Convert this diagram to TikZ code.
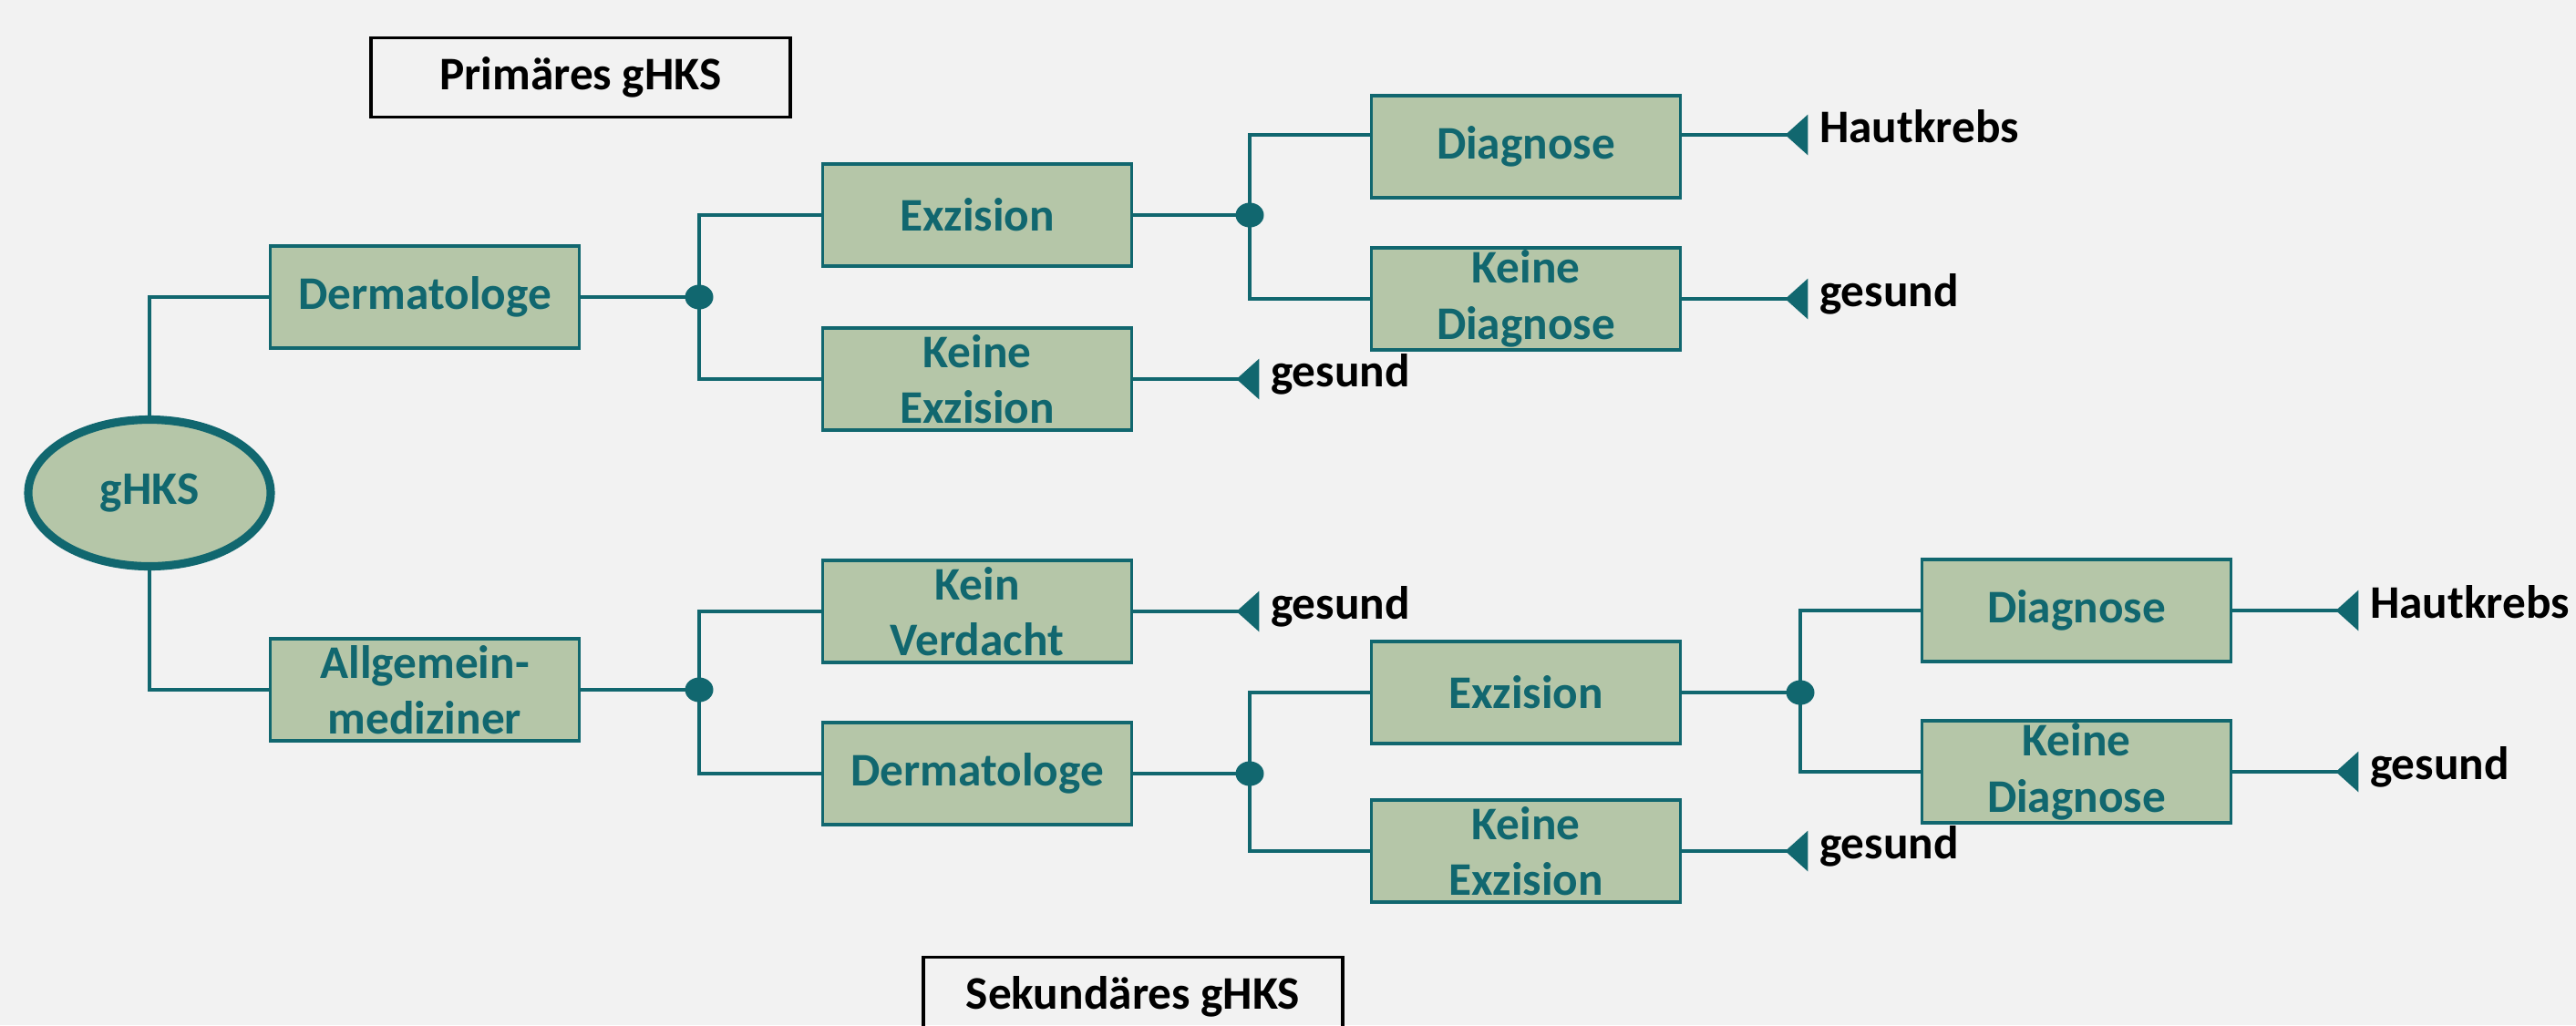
\documentclass[tikz,border=0pt]{standalone}
\usepackage{fontspec}
\setmainfont{Carlito}
\usetikzlibrary{positioning,shapes.geometric,arrows.meta}
\definecolor{petrol}{HTML}{11676F}
\definecolor{sage}{HTML}{B5C6A8}
\definecolor{paper}{HTML}{F2F2F2}
\begin{document}
\begin{tikzpicture}[font=\fontsize{14.6}{17.5}\selectfont\bfseries]
	\tikzstyle{box}=[rectangle,draw=petrol,line width=1.1pt,fill=sage,text=petrol,minimum width=3.39cm,minimum height=1.12cm,align=center,inner sep=0pt]
	\tikzstyle{junction}=[ellipse,fill=petrol,minimum width=0.31cm,minimum height=0.27cm,inner sep=0pt]
	\tikzstyle{title}=[rectangle,draw=black,line width=0.9pt,minimum width=4.6cm,minimum height=0.87cm]
	\tikzstyle{outcome}=[inner sep=0.12cm,text height=0.7em,text depth=0.2em]
	\tikzstyle{link}=[draw=petrol,line width=1.1pt]
	\tikzstyle{result}=[link,-{Triangle[reversed,length=0.25cm,width=0.44cm]}]
	\fill[paper] (0,0) rectangle (28.26,-11.25);
	\useasboundingbox (0,0) rectangle (28.26,-11.25);
	\node[title] (prim) at (6.37,-0.85) {Primäres gHKS};
	\node[title] (sek) at (12.43,-10.94) {Sekundäres gHKS};
	\node[ellipse,draw=petrol,line width=2.6pt,fill=sage,text=petrol,minimum width=2.66cm,minimum height=1.61cm] (ghks) at (1.64,-5.41) {gHKS};
	\node[box] (derm1) at (4.66,-3.26) {Dermatologe};
	\node[box] (allg) at (4.66,-7.57) {Allgemein-\\mediziner};
	\node[box] (exz1) at (10.72,-2.36) {Exzision};
	\node[box] (kexz1) at (10.72,-4.16) {Keine\\Exzision};
	\node[box] (kv) at (10.72,-6.71) {Kein\\Verdacht};
	\node[box] (derm2) at (10.72,-8.49) {Dermatologe};
	\node[box] (diag1) at (16.74,-1.61) {Diagnose};
	\node[box] (kdiag1) at (16.74,-3.28) {Keine\\Diagnose};
	\node[box] (exz2) at (16.74,-7.60) {Exzision};
	\node[box] (kexz2) at (16.74,-9.34) {Keine\\Exzision};
	\node[box] (diag2) at (22.78,-6.70) {Diagnose};
	\node[box] (kdiag2) at (22.78,-8.47) {Keine\\Diagnose};
	\node[junction] (j1) at (7.67,-3.26) {};
	\node[junction] (j2) at (7.67,-7.57) {};
	\node[junction] (j3) at (13.71,-2.36) {};
	\node[junction] (j4) at (13.71,-8.49) {};
	\node[junction] (j5) at (19.75,-7.60) {};
	\node[outcome,right=1.38cm of kexz1] (g1) {gesund};
	\node[outcome,right=1.38cm of diag1,yshift=0.13cm] (hk1) {Hautkrebs};
	\node[outcome,right=1.38cm of kdiag1] (g2) {gesund};
	\node[outcome,right=1.38cm of kv] (g3) {gesund};
	\node[outcome,right=1.38cm of kexz2] (g4) {gesund};
	\node[outcome,right=1.38cm of diag2] (hk2) {Hautkrebs};
	\node[outcome,right=1.38cm of kdiag2] (g5) {gesund};
	\draw[link] (ghks.north) |- (derm1.west);
	\draw[link] (ghks.south) |- (allg.west);
	\draw[link] (derm1) -- (j1.center);
	\draw[link] (exz1.west) -| (j1.center) |- (kexz1.west);
	\draw[link] (allg) -- (j2.center);
	\draw[link] (kv.west) -| (j2.center) |- (derm2.west);
	\draw[link] (exz1) -- (j3.center);
	\draw[link] (diag1.west |- hk1) -| (j3.center) |- (kdiag1.west);
	\draw[link] (derm2) -- (j4.center);
	\draw[link] (exz2.west) -| (j4.center) |- (kexz2.west);
	\draw[link] (exz2) -- (j5.center);
	\draw[link] (diag2.west) -| (j5.center) |- (kdiag2.west);
	\draw[result] (kexz1) -- (g1);
	\draw[result] (diag1.east |- hk1) -- (hk1);
	\draw[result] (kdiag1) -- (g2);
	\draw[result] (kv) -- (g3);
	\draw[result] (kexz2) -- (g4);
	\draw[result] (diag2) -- (hk2);
	\draw[result] (kdiag2) -- (g5);
\end{tikzpicture}
\end{document}
